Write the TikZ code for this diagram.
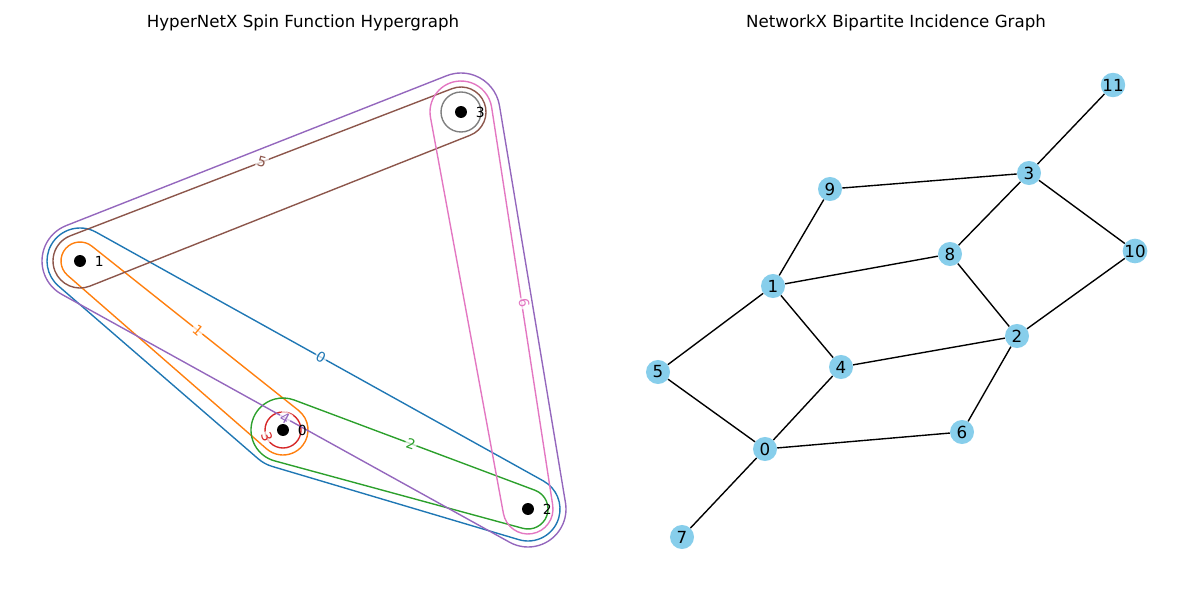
\documentclass[tikz,border=0pt]{standalone}
\usepackage{fontspec}
\setmainfont{DejaVu Sans}
\usetikzlibrary{calc,positioning}
\definecolor{tabblue}{HTML}{1F77B4}
\definecolor{taborange}{HTML}{FF7F0E}
\definecolor{tabgreen}{HTML}{2CA02C}
\definecolor{tabred}{HTML}{D62728}
\definecolor{tabpurple}{HTML}{9467BD}
\definecolor{tabbrown}{HTML}{8C564B}
\definecolor{tabpink}{HTML}{E377C2}
\definecolor{tabgray}{HTML}{7F7F7F}
\definecolor{skyblue}{HTML}{87CEEB}
% hull of two circles: #1,#2 nodes, #3,#4 radii, #5 style
\newcommand{\hullpair}[5]{%
  \draw[#5] let \p1=($(#2)-(#1)$), \n1={atan2(\y1,\x1)},
    \n2={acos((#3-#4)*0.72/veclen(\x1,\y1))} in
    ($(#1)+({\n1+\n2}:#3)$) -- ($(#2)+({\n1+\n2}:#4)$)
    arc[start angle=\n1+\n2, delta angle=-2*\n2, radius=#4]
    -- ($(#1)+({\n1-\n2}:#3)$)
    arc[start angle=\n1-\n2, delta angle=-360+2*\n2, radius=#3] -- cycle;}
% hull of three circles (ccw): #1,#2,#3 nodes, #4,#5,#6 radii, #7 style
\newcommand{\hulltri}[7]{%
  \draw[#7] let \p1=($(#2)-(#1)$), \p2=($(#3)-(#2)$), \p3=($(#1)-(#3)$),
    \n1={atan2(\y1,\x1)-acos((#4-#5)*0.72/veclen(\x1,\y1))},
    \n2={atan2(\y2,\x2)-acos((#5-#6)*0.72/veclen(\x2,\y2))},
    \n3={atan2(\y3,\x3)-acos((#6-#4)*0.72/veclen(\x3,\y3))} in
    ($(#1)+(\n1:#4)$) -- ($(#2)+(\n1:#5)$)
    arc[start angle=\n1, delta angle={mod(\n2-\n1+720,360)}, radius=#5]
    -- ($(#3)+(\n2:#6)$)
    arc[start angle=\n2, delta angle={mod(\n3-\n2+720,360)}, radius=#6]
    -- ($(#1)+(\n3:#4)$)
    arc[start angle=\n3, delta angle={mod(\n1-\n3+720,360)}, radius=#4] -- cycle;}

\begin{document}
\begin{tikzpicture}[x=0.72pt, y=0.72pt,
    hedge/.style={line width=1pt},
    dot/.style={circle, fill=black, minimum size=8.6pt, inner sep=0pt},
    vlabel/.style={inner sep=2pt, font=\fontsize{10}{12}\selectfont},
    elabel/.style={inner sep=1pt, fill=white, fill opacity=0.7, text opacity=1,
      font=\fontsize{10}{12}\selectfont},
    gnode/.style={circle, fill=skyblue, minimum size=17.3pt, inner sep=0pt,
      font=\fontsize{12}{14}\selectfont},
    gedge/.style={line width=1pt, black},
    title/.style={font=\fontsize{12}{14}\selectfont}
  ]
  \useasboundingbox (0,0) rectangle (1200,600);

  \node[title] (t1) at (303,577) {HyperNetX Spin Function Hypergraph};
  \node[title] (t2) at (896,577) {NetworkX Bipartite Incidence Graph};

  % hypergraph vertices
  \coordinate (h0) at (283,170);
  \coordinate (h1) at (80,339);
  \coordinate (h2) at (528,91);
  \coordinate (h3) at (461,488);

  % hyperedges
  \hulltri{h1}{h0}{h2}{33}{38}{32}{hedge, tabblue}
  \hullpair{h1}{h0}{19}{25}{hedge, taborange}
  \hullpair{h0}{h2}{32}{20}{hedge, tabgreen}
  \draw[hedge, tabred] (h0) circle[radius=18];
  \hulltri{h1}{h2}{h3}{38}{38}{39}{hedge, tabpurple}
  \hullpair{h1}{h3}{27}{25}{hedge, tabbrown}
  \hullpair{h2}{h3}{25}{31}{hedge, tabpink}
  \draw[hedge, tabgray] (h3) circle[radius=20];

  \node[elabel, text=tabblue, rotate=-29] (e0) at (321,243) {0};
  \node[elabel, text=taborange, rotate=-40] (e1) at (198,270) {1};
  \node[elabel, text=tabgreen, rotate=-18] (e2) at (411,156) {2};
  \node[elabel, text=tabred, rotate=-70] (e3) at (267,163) {3};
  \node[elabel, text=tabpurple, rotate=-29] (e4) at (285,182) {4};
  \node[elabel, text=tabbrown, rotate=-15] (e5) at (262,438) {5};
  \node[elabel, text=tabpink, rotate=-80] (e6) at (524,297) {6};

  \node[dot] (d0) at (h0) {};
  \node[dot] (d1) at (h1) {};
  \node[dot] (d2) at (h2) {};
  \node[dot] (d3) at (h3) {};
  \node[vlabel, right=4pt of d0] (l0) {0};
  \node[vlabel, right=4pt of d1] (l1) {1};
  \node[vlabel, right=4pt of d2] (l2) {2};
  \node[vlabel, right=4pt of d3] (l3) {3};

  % incidence graph
  \node[gnode] (n0) at (765,151) {0};
  \node[gnode] (n1) at (773,314) {1};
  \node[gnode] (n2) at (1017,264) {2};
  \node[gnode] (n3) at (1029,427) {3};
  \node[gnode] (n4) at (841,233) {4};
  \node[gnode] (n5) at (658,228) {5};
  \node[gnode] (n6) at (962,168) {6};
  \node[gnode] (n7) at (682,63) {7};
  \node[gnode] (n8) at (950,346) {8};
  \node[gnode] (n9) at (830,411) {9};
  \node[gnode] (n10) at (1135,349) {10};
  \node[gnode] (n11) at (1113,515) {11};

  \draw[gedge] (n11) -- (n3);
  \draw[gedge] (n3) -- (n9);
  \draw[gedge] (n3) -- (n8);
  \draw[gedge] (n3) -- (n10);
  \draw[gedge] (n9) -- (n1);
  \draw[gedge] (n1) -- (n8);
  \draw[gedge] (n8) -- (n2);
  \draw[gedge] (n10) -- (n2);
  \draw[gedge] (n1) -- (n5);
  \draw[gedge] (n1) -- (n4);
  \draw[gedge] (n4) -- (n2);
  \draw[gedge] (n5) -- (n0);
  \draw[gedge] (n4) -- (n0);
  \draw[gedge] (n0) -- (n6);
  \draw[gedge] (n6) -- (n2);
  \draw[gedge] (n0) -- (n7);
\end{tikzpicture}
\end{document}
